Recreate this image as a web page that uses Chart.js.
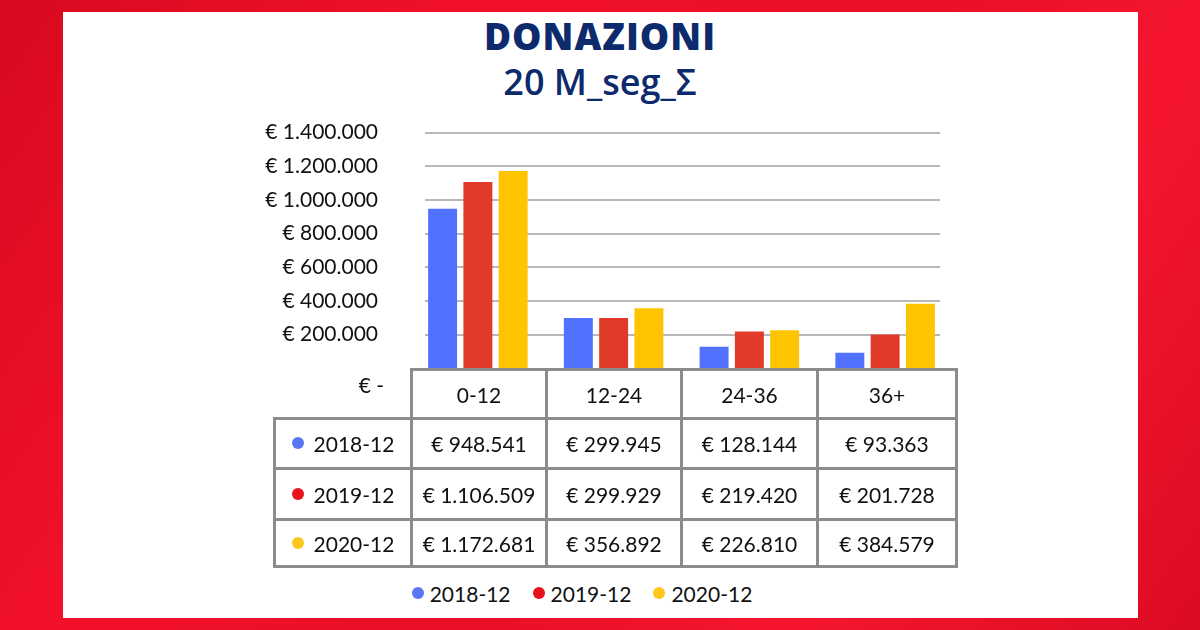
<!DOCTYPE html>
<html>
<head>
<meta charset="utf-8">
<script src="https://cdn.jsdelivr.net/npm/chart.js@4"></script>
<style>
  html, body { margin: 0; padding: 0; }
  body {
    width: 1200px; height: 630px; overflow: hidden; position: relative;
    background: linear-gradient(125deg, #d8091f 0%, #f2112a 30%, #ea0e27 55%, #f5162e 75%, #dc0b22 100%);
    font-family: "Lato", "Open Sans", sans-serif;
  }
  #panel { position: absolute; left: 63px; top: 12px; width: 1075px; height: 606px; background: #fff; }
  #title { position: absolute; left: 0; top: 14px; width: 1200px; text-align: center; color: #0c2a6c;
           font-family: "Open Sans", sans-serif; font-weight: 800; font-size: 37px; line-height: 44px; letter-spacing: 1px; }
  #subtitle { position: absolute; left: 0; top: 59px; width: 1200px; text-align: center; color: #0c2a6c;
              font-family: "Open Sans", sans-serif; font-weight: 600; font-size: 36px; line-height: 46px; }
  #wrap { position: absolute; left: 250px; top: 96px; width: 703px; height: 309px; }
  table { position: absolute; left: 273px; top: 368px; width: 682px; table-layout: fixed;
          border-collapse: collapse; font-size: 21px; color: #111; }
  td { border: 3px solid #8c8c8c; text-align: center; padding: 0; white-space: nowrap; }
  td.corner { border: none; text-align: right; vertical-align: top; padding-right: 26px; padding-top: 2px; }
  .dot { display: inline-block; width: 12px; height: 12px; border-radius: 50%; margin-right: 10px; vertical-align: 3px; }
  #legend { position: absolute; left: 0; top: 581px; width: 1164px; text-align: center; font-size: 21px; color: #111; }
  #legend span.item { margin: 0 11px; }
</style>
</head>
<body>
<div id="panel"></div>
<div id="title">DONAZIONI</div>
<div id="subtitle">20 M_seg_Σ</div>
<div id="wrap"><canvas id="chart"></canvas></div>
<table id="tbl"></table>
<div id="legend"></div>
<script>
const categories = ["0-12", "12-24", "24-36", "36+"];
const seriesNames = ["2018-12", "2019-12", "2020-12"];
const v2018 = [948541, 299945, 128144, 93363];
const v2019 = [1106509, 299929, 219420, 201728];
const v2020 = [1172681, 356892, 226810, 384579];
const barColors = ["#5271ff", "#e23a28", "#ffc400"];
const dotColors = ["#5a76f2", "#e8121c", "#ffc61c"];
const tickValues = [0, 200000, 400000, 600000, 800000, 1000000, 1200000, 1400000];

const allValues = [v2018, v2019, v2020];

function fmt(v) {
  // punto come separatore delle migliaia
  return "€ " + String(v).replace(/\B(?=(\d{3})+(?!\d))/g, ".");
}

// tabella dati
const tbl = document.getElementById("tbl");
const colW = [137, 135, 135, 136, 139];
const rowH = [49, 50, 51, 47];
let html = "<colgroup>" + colW.map(w => "<col style='width:" + w + "px'>").join("") + "</colgroup>";
html += "<tr style='height:" + rowH[0] + "px'><td class='corner'>€ -</td>";
categories.forEach(c => { html += "<td>" + c + "</td>"; });
html += "</tr>";
seriesNames.forEach((s, r) => {
  html += "<tr style='height:" + rowH[r + 1] + "px'><td><span class='dot' style='background:" + dotColors[r] + "'></span>" + s + "</td>";
  allValues[r].forEach(v => { html += "<td>" + fmt(v) + "</td>"; });
  html += "</tr>";
});
tbl.innerHTML = html;

// legenda
document.getElementById("legend").innerHTML = seriesNames.map((s, i) =>
  "<span class='item'><span class='dot' style='background:" + dotColors[i] + ";margin-right:6px'></span>" + s + "</span>"
).join("");

// griglia leggermente rientrata come nell'originale
const gridPlugin = {
  id: "insetGrid",
  beforeDatasetsDraw(chart) {
    const { ctx, chartArea, scales } = chart;
    ctx.save();
    ctx.strokeStyle = "#b8b8b8";
    ctx.lineWidth = 2;
    tickValues.forEach(t => {
      if (t === 0) return;
      const y = Math.round(scales.y.getPixelForValue(t));
      ctx.beginPath();
      ctx.moveTo(chartArea.left + 15, y);
      ctx.lineTo(chartArea.right - 13, y);
      ctx.stroke();
    });
    ctx.restore();
  }
};

new Chart(document.getElementById("chart"), {
  type: "bar",
  data: {
    labels: categories,
    datasets: seriesNames.map((s, i) => ({
      label: s,
      data: allValues[i],
      backgroundColor: barColors[i],
      borderWidth: 0,
      categoryPercentage: 0.78,
      barPercentage: 0.82
    }))
  },
  options: {
    responsive: true,
    maintainAspectRatio: false,
    animation: false,
    layout: { padding: { top: 4, bottom: 0, right: 0, left: 0 } },
    plugins: { legend: { display: false }, tooltip: { enabled: false } },
    scales: {
      x: { display: false },
      y: {
        min: 0,
        max: 1400000,
        afterFit(scale) { scale.width = 160; },
        afterBuildTicks(scale) { scale.ticks = tickValues.map(v => ({ value: v })); },
        grid: { display: false },
        border: { display: false },
        ticks: {
          padding: 24,
          color: "#111",
          font: { family: "Lato", size: 21 },
          callback: v => (v === 0 ? "" : fmt(v))
        }
      }
    }
  },
  plugins: [gridPlugin]
});
</script>
</body>
</html>
